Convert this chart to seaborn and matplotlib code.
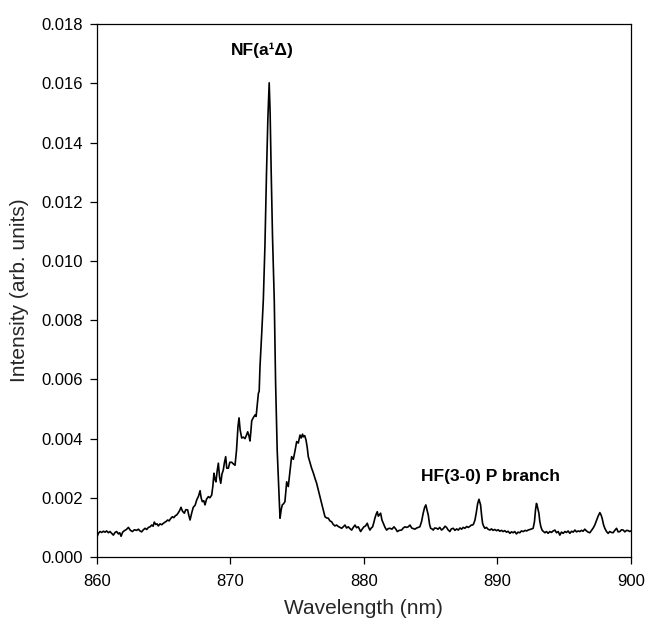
import matplotlib
matplotlib.use("Agg")
import matplotlib.pyplot as plt
import seaborn as sns
from matplotlib.ticker import FormatStrFormatter, MultipleLocator

# ------------------------------------------------------------
# Digitised spectrum (wavelength in nm, intensity in arb. units)
# ------------------------------------------------------------
wavelength = [
    860.00, 860.10, 860.22, 860.35, 860.48, 860.60, 860.72, 860.85, 860.97, 861.10,
    861.22, 861.35, 861.47, 861.60, 861.70, 861.80, 861.92, 862.05, 862.20, 862.35,
    862.50, 862.65, 862.80, 862.97, 863.10, 863.22, 863.34, 863.47, 863.60, 863.72,
    863.85, 863.97, 864.10, 864.20, 864.29, 864.40, 864.50, 864.59, 864.72, 864.85,
    864.97, 865.10, 865.20, 865.29, 865.40, 865.52, 865.64, 865.75, 865.88, 865.97,
    866.10, 866.20, 866.29, 866.40, 866.54, 866.65, 866.79, 866.88, 866.97, 867.10,
    867.21, 867.35, 867.47, 867.60, 867.72, 867.80, 867.89, 868.00, 868.09, 868.20,
    868.34, 868.45, 868.59, 868.68, 868.76, 868.84, 868.91, 869.00, 869.09, 869.18,
    869.27, 869.36, 869.46, 869.55, 869.64, 869.72, 869.84, 869.95, 870.09, 870.20,
    870.34, 870.45, 870.56, 870.64, 870.72, 870.84, 870.96, 871.09, 871.20, 871.29,
    871.38, 871.46, 871.52, 871.59, 871.70, 871.84, 871.92, 872.00, 872.09, 872.15,
    872.21, 872.34, 872.46, 872.58, 872.70, 872.80, 872.90, 872.97, 873.05, 873.15,
    873.28, 873.38, 873.50, 873.63, 873.71, 873.80, 873.88, 873.98, 874.08, 874.21,
    874.33, 874.46, 874.58, 874.71, 874.84, 874.96, 875.08, 875.21, 875.30, 875.40,
    875.46, 875.56, 875.66, 875.75, 875.83, 875.95, 876.08, 876.20, 876.33, 876.45,
    876.58, 876.70, 876.83, 876.95, 877.08, 877.20, 877.33, 877.45, 877.58, 877.70,
    877.83, 877.95, 878.08, 878.20, 878.33, 878.45, 878.58, 878.70, 878.83, 878.95,
    879.08, 879.20, 879.33, 879.45, 879.58, 879.75, 879.88, 880.00, 880.12, 880.25,
    880.35, 880.45, 880.55, 880.65, 880.75, 880.82, 880.92, 881.00, 881.08, 881.15,
    881.25, 881.35, 881.45, 881.58, 881.70, 881.82, 881.95, 882.10, 882.25, 882.38,
    882.50, 882.65, 882.82, 882.95, 883.07, 883.20, 883.32, 883.45, 883.58, 883.70,
    883.82, 883.95, 884.08, 884.19, 884.32, 884.44, 884.55, 884.64, 884.72, 884.82,
    884.92, 885.00, 885.10, 885.19, 885.30, 885.44, 885.55, 885.68, 885.82, 885.95,
    886.08, 886.19, 886.30, 886.44, 886.55, 886.69, 886.82, 886.95, 887.07, 887.20,
    887.32, 887.44, 887.56, 887.70, 887.82, 887.95, 888.05, 888.14, 888.22, 888.32,
    888.42, 888.52, 888.62, 888.68, 888.74, 888.82, 888.89, 888.97, 889.06, 889.18,
    889.30, 889.44, 889.56, 889.68, 889.80, 889.94, 890.06, 890.18, 890.30, 890.43,
    890.55, 890.68, 890.80, 890.94, 891.06, 891.18, 891.30, 891.43, 891.55, 891.68,
    891.80, 891.95, 892.08, 892.20, 892.30, 892.45, 892.58, 892.68, 892.78, 892.86,
    892.93, 893.00, 893.11, 893.18, 893.26, 893.36, 893.46, 893.56, 893.68, 893.80,
    893.93, 894.05, 894.18, 894.31, 894.43, 894.56, 894.68, 894.80, 894.93, 895.06,
    895.18, 895.30, 895.43, 895.56, 895.68, 895.81, 895.93, 896.06, 896.18, 896.30,
    896.42, 896.55, 896.68, 896.80, 896.93, 897.05, 897.18, 897.30, 897.42, 897.55,
    897.68, 897.77, 897.85, 897.95, 898.05, 898.18, 898.30, 898.42, 898.55, 898.67,
    898.80, 898.93, 899.05, 899.18, 899.30, 899.43, 899.55, 899.68, 899.81, 899.93,
    900.00,
]

intensity = [
    0.00068, 0.00080, 0.00086, 0.00083, 0.00087, 0.00084, 0.00088, 0.00082, 0.00086, 0.00080,
    0.00074, 0.00083, 0.00086, 0.00078, 0.00082, 0.00070, 0.00084, 0.00089, 0.00093, 0.00100,
    0.00090, 0.00086, 0.00092, 0.00090, 0.00094, 0.00088, 0.00085, 0.00092, 0.00097, 0.00093,
    0.00100, 0.00102, 0.00108, 0.00104, 0.00118, 0.00110, 0.00112, 0.00105, 0.00112, 0.00109,
    0.00114, 0.00118, 0.00121, 0.00125, 0.00122, 0.00130, 0.00136, 0.00133, 0.00140, 0.00142,
    0.00150, 0.00158, 0.00168, 0.00155, 0.00148, 0.00160, 0.00159, 0.00140, 0.00125, 0.00150,
    0.00168, 0.00175, 0.00193, 0.00205, 0.00224, 0.00200, 0.00187, 0.00190, 0.00176, 0.00195,
    0.00204, 0.00200, 0.00209, 0.00240, 0.00283, 0.00262, 0.00254, 0.00290, 0.00317, 0.00270,
    0.00249, 0.00280, 0.00294, 0.00320, 0.00339, 0.00300, 0.00300, 0.00320, 0.00320, 0.00315,
    0.00310, 0.00360, 0.00440, 0.00470, 0.00430, 0.00402, 0.00405, 0.00400, 0.00412, 0.00423,
    0.00410, 0.00392, 0.00420, 0.00460, 0.00470, 0.00480, 0.00475, 0.00510, 0.00553, 0.00560,
    0.00643, 0.00756, 0.00868, 0.01050, 0.01300, 0.01480, 0.01602, 0.01500, 0.01300, 0.01080,
    0.00868, 0.00588, 0.00360, 0.00216, 0.00131, 0.00160, 0.00176, 0.00180, 0.00187, 0.00254,
    0.00238, 0.00290, 0.00339, 0.00330, 0.00360, 0.00390, 0.00385, 0.00412, 0.00402, 0.00415,
    0.00406, 0.00410, 0.00395, 0.00370, 0.00339, 0.00320, 0.00300, 0.00285, 0.00266, 0.00250,
    0.00226, 0.00205, 0.00181, 0.00160, 0.00136, 0.00132, 0.00131, 0.00122, 0.00119, 0.00110,
    0.00105, 0.00108, 0.00103, 0.00100, 0.00097, 0.00102, 0.00108, 0.00098, 0.00102, 0.00096,
    0.00091, 0.00100, 0.00108, 0.00099, 0.00102, 0.00086, 0.00095, 0.00102, 0.00105, 0.00114,
    0.00100, 0.00091, 0.00098, 0.00102, 0.00118, 0.00131, 0.00145, 0.00153, 0.00138, 0.00142,
    0.00148, 0.00125, 0.00114, 0.00100, 0.00091, 0.00096, 0.00097, 0.00094, 0.00102, 0.00095,
    0.00086, 0.00090, 0.00091, 0.00098, 0.00102, 0.00100, 0.00102, 0.00108, 0.00098, 0.00096,
    0.00094, 0.00098, 0.00100, 0.00102, 0.00120, 0.00148, 0.00168, 0.00176, 0.00160, 0.00142,
    0.00110, 0.00097, 0.00095, 0.00091, 0.00098, 0.00097, 0.00094, 0.00100, 0.00091, 0.00096,
    0.00104, 0.00100, 0.00092, 0.00086, 0.00095, 0.00097, 0.00090, 0.00095, 0.00091, 0.00098,
    0.00094, 0.00100, 0.00097, 0.00103, 0.00100, 0.00104, 0.00108, 0.00108, 0.00112, 0.00125,
    0.00150, 0.00180, 0.00195, 0.00185, 0.00176, 0.00140, 0.00114, 0.00104, 0.00097, 0.00100,
    0.00094, 0.00091, 0.00095, 0.00090, 0.00093, 0.00089, 0.00092, 0.00087, 0.00090, 0.00086,
    0.00089, 0.00084, 0.00087, 0.00080, 0.00085, 0.00082, 0.00086, 0.00078, 0.00084, 0.00082,
    0.00088, 0.00086, 0.00090, 0.00088, 0.00091, 0.00093, 0.00095, 0.00097, 0.00120, 0.00160,
    0.00181, 0.00170, 0.00148, 0.00120, 0.00102, 0.00090, 0.00086, 0.00082, 0.00086, 0.00080,
    0.00086, 0.00083, 0.00088, 0.00091, 0.00082, 0.00086, 0.00074, 0.00084, 0.00080, 0.00086,
    0.00083, 0.00088, 0.00080, 0.00087, 0.00084, 0.00091, 0.00085, 0.00088, 0.00086, 0.00090,
    0.00087, 0.00094, 0.00088, 0.00084, 0.00082, 0.00090, 0.00098, 0.00108, 0.00122, 0.00138,
    0.00150, 0.00142, 0.00131, 0.00110, 0.00097, 0.00086, 0.00080, 0.00086, 0.00083, 0.00082,
    0.00090, 0.00097, 0.00085, 0.00086, 0.00092, 0.00091, 0.00085, 0.00090, 0.00089, 0.00086,
    0.00088,
]

x_ticks = [860, 870, 880, 890, 900]

# band labels: (text, wavelength, intensity)
labels = [
    ("NF(a\u00b9\u0394)", 872.4, 0.01713),
    ("HF(3-0) P branch", 889.5, 0.00271),
]

assert len(wavelength) == len(intensity)

# ------------------------------------------------------------
# Plot
# ------------------------------------------------------------
sns.set_style("ticks")
plt.rcParams['font.family'] = ['Liberation Sans', 'DejaVu Sans']

fig, ax = plt.subplots(figsize=(6.47, 6.20), dpi=100)
fig.subplots_adjust(left=0.150, right=0.975, bottom=0.1016, top=0.961)

sns.lineplot(x=wavelength, y=intensity, color='black', linewidth=1.2,
             estimator=None, ax=ax)

ax.set_xlim(860, 900)
ax.set_ylim(0, 0.018)
ax.set_xticks(x_ticks)
ax.yaxis.set_major_locator(MultipleLocator(0.002))
ax.yaxis.set_major_formatter(FormatStrFormatter('%.3f'))

for side in ['top', 'right', 'bottom', 'left']:
    ax.spines[side].set_visible(True)
    ax.spines[side].set_color('black')
    ax.spines[side].set_linewidth(0.9)

ax.tick_params(axis='both', direction='out', length=5, width=0.9,
               labelsize=12, colors='black')
ax.tick_params(axis='x', pad=7)
ax.tick_params(axis='y', pad=5)

ax.set_xlabel("Wavelength (nm)", fontsize=15, labelpad=7.5)
ax.set_ylabel("Intensity (arb. units)", fontsize=15, labelpad=9)

for text, xv, yv in labels:
    ax.text(xv, yv, text, ha='center', va='center', fontsize=12.5,
            fontweight='bold', color='black')

fig.savefig("out.png", dpi=100)
